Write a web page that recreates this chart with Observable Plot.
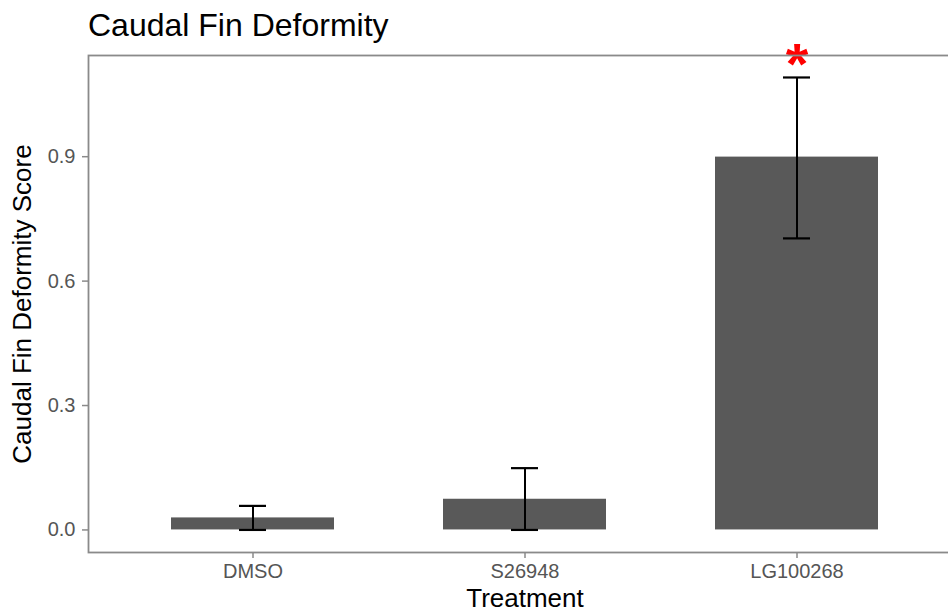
<!DOCTYPE html>
<html>
<head>
<meta charset="utf-8">
<script src="https://cdn.jsdelivr.net/npm/d3@7"></script>
<script src="https://cdn.jsdelivr.net/npm/@observablehq/plot@0.6"></script>
<style>
html, body { margin: 0; padding: 0; background: #fff; overflow: hidden; }
#wrap { width: 948px; height: 612px; overflow: hidden; position: relative; font-family: "Liberation Sans", Arial, sans-serif; }
#title { height: 48px; box-sizing: border-box; padding-left: 88px; padding-top: 3px; font-size: 32px; line-height: 45px; color: #000; white-space: nowrap; }
#chart svg { display: block; }
</style>
</head>
<body>
<div id="wrap">
  <div id="title">Caudal Fin Deformity</div>
  <div id="chart"></div>
</div>
<script>
// Data
const treatments = ["DMSO", "S26948", "LG100268"];
const means = [0.029, 0.074, 0.899];
const errLower = [0.0, 0.0, 0.703];
const errUpper = [0.058, 0.149, 1.091];
const sigLabels = ["", "", "*"];
const sigY = 1.12;
const yTicks = [0.0, 0.3, 0.6, 0.9];

const data = treatments.map((t, i) => ({t, mean: means[i], lo: errLower[i], hi: errUpper[i]}));
const sig = treatments.map((t, i) => ({t, label: sigLabels[i], y: sigY})).filter(d => d.label);

const axisGray = "#8a8a8a";
const labelGray = "#555";

const chart = Plot.plot({
  width: 948,
  height: 564,
  marginTop: 7,
  marginBottom: 60,
  marginLeft: 88,
  marginRight: -13,
  style: {fontFamily: '"Liberation Sans", Arial, sans-serif', background: "white", overflow: "visible"},
  x: {domain: treatments, paddingInner: 0.4, paddingOuter: 0.3, axis: null},
  y: {domain: [-0.0544, 1.144], axis: null},
  marks: [
    Plot.barY(data, {x: "t", y: "mean", fill: "#595959"}),
    Plot.ruleX(data, {x: "t", y1: "lo", y2: "hi", stroke: "black", strokeWidth: 2}),
    Plot.tickY(data, {x: "t", y: "hi", stroke: "black", strokeWidth: 2.2, insetLeft: 68, insetRight: 68}),
    Plot.tickY(data, {x: "t", y: "lo", stroke: "black", strokeWidth: 2.2, insetLeft: 68, insetRight: 68}),
    Plot.text(sig, {x: "t", y: "y", text: "label", fill: "#ff0000", fontSize: 58, fontWeight: "bold"}),
    Plot.frame({stroke: axisGray, strokeWidth: 1.8}),
    Plot.axisY({ticks: yTicks, tickFormat: d3.format(".1f"), tickSize: 6, tickPadding: 7, fontSize: 20,
      stroke: axisGray, strokeWidth: 1.5, fill: labelGray, label: null}),
    Plot.axisX({tickSize: 6, tickPadding: 5, fontSize: 20, stroke: axisGray, strokeWidth: 1.5, fill: labelGray, label: null}),
    Plot.text(["Caudal Fin Deformity Score"], {frameAnchor: "left", textAnchor: "middle", lineAnchor: "middle", dx: -66, rotate: -90, fontSize: 26, fill: "black"}),
    Plot.text(["Treatment"], {frameAnchor: "bottom", textAnchor: "middle", lineAnchor: "middle", dy: 46, fontSize: 26, fill: "black"})
  ]
});
document.getElementById("chart").appendChild(chart);
</script>
</body>
</html>
